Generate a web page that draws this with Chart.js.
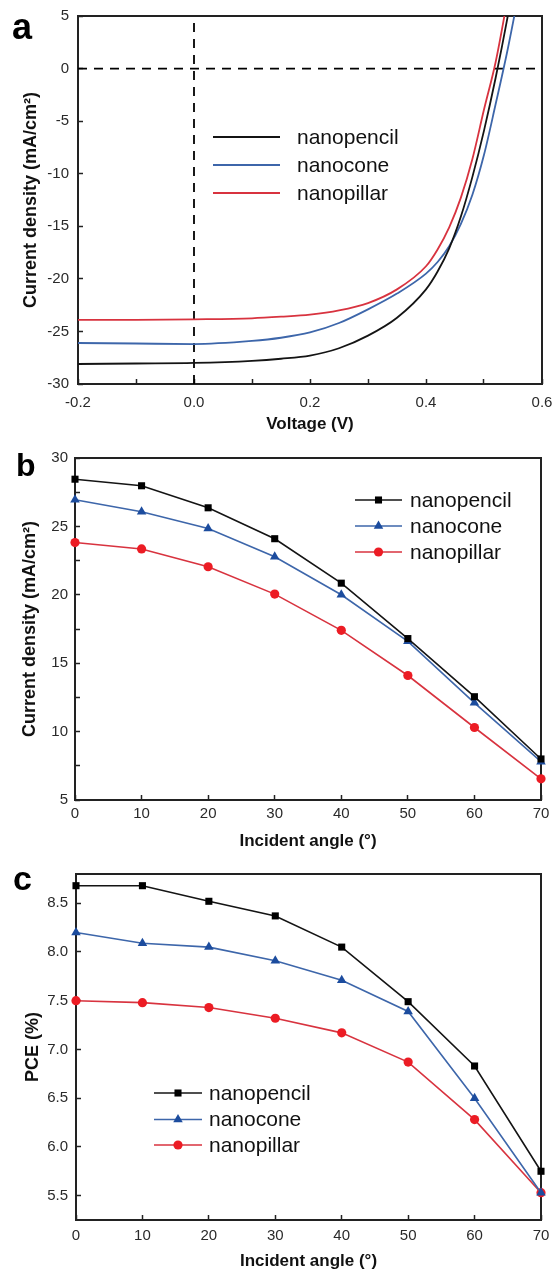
<!DOCTYPE html>
<html>
<head>
<meta charset="utf-8">
<title>Nanostructure solar cells</title>
<script src="https://cdn.jsdelivr.net/npm/chart.js@4.4.1/dist/chart.umd.min.js"></script>
<style>
  body { margin: 0; background: #fff; width: 556px; height: 1274px; position: relative; overflow: hidden; font-family: Arial, "Liberation Sans", sans-serif; }
  .panel { position: absolute; left: 0; }
  .tag { position: absolute; font-weight: bold; color: #000; line-height: 1; }
</style>
</head>
<body>
<div class="panel" style="top:0"><canvas id="jv" width="556" height="440"></canvas></div>
<div class="panel" style="top:440px"><canvas id="jsc" width="556" height="420"></canvas></div>
<div class="panel" style="top:860px"><canvas id="pce" width="556" height="414"></canvas></div>
<div class="tag" style="left:12px; top:9px; font-size:36px">a</div>
<div class="tag" style="left:16px; top:449px; font-size:32px">b</div>
<div class="tag" style="left:13px; top:861px; font-size:34px">c</div>

<script>
// series names
const names = ['nanopencil', 'nanocone', 'nanopillar'];

// (a) J-V curves
const voltage = [-0.2, -0.1, 0, 0.1, 0.15, 0.2, 0.25, 0.3, 0.35, 0.4, 0.42, 0.44, 0.46, 0.48, 0.5, 0.52, 0.54, 0.56];
const jvPencil = [-28.1, -28.05, -28.0, -27.8, -27.6, -27.3, -26.6, -25.4, -23.7, -21.0, -19.3, -17.1, -14.1, -10.3, -5.9, -0.9, 4.7, 11.0];
const jvCone = [-26.1, -26.15, -26.2, -25.9, -25.6, -25.1, -24.2, -22.9, -21.4, -19.5, -18.4, -16.9, -14.8, -12.0, -8.2, -3.4, 1.6, 7.2];
const jvPillar = [-23.9, -23.9, -23.85, -23.75, -23.6, -23.4, -23.0, -22.3, -21.0, -18.8, -17.2, -15.1, -12.3, -8.6, -3.9, 0.6, 6.5, 13.0];
const zeroV = [-0.2, 0.6];
const zeroJ = [-30, 5];

// (b) current density vs incident angle
const angles = [0, 10, 20, 30, 40, 50, 60, 70];
const jscPencil = [28.45, 27.97, 26.36, 24.1, 20.85, 16.8, 12.55, 8.0];
const jscCone = [26.95, 26.07, 24.85, 22.78, 20.0, 16.6, 12.1, 7.8];
const jscPillar = [23.82, 23.35, 22.05, 20.05, 17.4, 14.1, 10.3, 6.55];

// (c) PCE vs incident angle
const pcePencil = [8.68, 8.68, 8.52, 8.37, 8.05, 7.49, 6.83, 5.75];
const pceCone = [8.20, 8.09, 8.05, 7.91, 7.71, 7.39, 6.50, 5.53];
const pcePillar = [7.50, 7.48, 7.43, 7.32, 7.17, 6.87, 6.28, 5.53];

const FONT = 'Arial, "Liberation Sans", sans-serif';
const lineColors = ['#141414', '#3d66aa', '#d8333f'];
const dotColors = ['#000000', '#1c4c9e', '#ec1c24'];
const shapes = ['rect', 'triangle', 'circle'];
const sizes = [5, 5.5, 4.6];

const pairs = (xs, ys) => xs.map((x, i) => ({ x: x, y: ys[i] }));

// box round the plot area, drawn under the marks
const frame = {
  id: 'frame',
  beforeDatasetsDraw(chart) {
    const { ctx, chartArea: a } = chart;
    ctx.save();
    ctx.strokeStyle = '#222';
    ctx.lineWidth = 2;
    ctx.strokeRect(a.left, a.top, a.right - a.left, a.bottom - a.top);
    ctx.restore();
  }
};

function drawMarker(ctx, style, r, x, y, color) {
  ctx.fillStyle = color;
  ctx.beginPath();
  if (style === 'rect') {
    const s = r * Math.SQRT1_2;
    ctx.rect(x - s, y - s, 2 * s, 2 * s);
  } else if (style === 'triangle') {
    ctx.moveTo(x, y - r);
    ctx.lineTo(x + r * 0.866, y + r * 0.5);
    ctx.lineTo(x - r * 0.866, y + r * 0.5);
    ctx.closePath();
  } else {
    ctx.arc(x, y, r, 0, Math.PI * 2);
  }
  ctx.fill();
}

// legend inside the plot, as in the figure
const inlineLegend = {
  id: 'inlineLegend',
  afterDraw(chart, args, o) {
    const ctx = chart.ctx;
    ctx.save();
    ctx.font = o.size + 'px ' + FONT;
    ctx.textBaseline = 'middle';
    chart.data.datasets.forEach((ds, i) => {
      if (ds.helper) return;
      const y = o.ys[i];
      ctx.strokeStyle = ds.borderColor;
      ctx.lineWidth = o.lineWidth;
      ctx.beginPath();
      ctx.moveTo(o.x1, y);
      ctx.lineTo(o.x2, y);
      ctx.stroke();
      if (o.markers) drawMarker(ctx, ds.pointStyle, ds.pointRadius, (o.x1 + o.x2) / 2, y, ds.pointBackgroundColor);
      ctx.fillStyle = '#111';
      ctx.fillText(ds.label, o.textX, y + 1);
    });
    ctx.restore();
  }
};

function fixSize(w, h) {
  return function (s) {
    if (s.isHorizontal()) s.height = h; else s.width = w;
    s.paddingLeft = s.paddingRight = s.paddingTop = s.paddingBottom = 0;
  };
}

function axis(cfg) {
  return {
    type: 'linear',
    min: cfg.min,
    max: cfg.max,
    border: { display: false },
    grid: { drawOnChartArea: false, tickLength: -5, tickColor: '#222', tickWidth: 1.5 },
    ticks: {
      stepSize: cfg.step,
      autoSkip: false,
      maxRotation: 0,
      padding: cfg.tickPad,
      color: '#2a2a2a',
      font: { family: FONT, size: 15 },
      callback: cfg.label
    },
    title: {
      display: true,
      text: cfg.title,
      color: '#111',
      font: { family: FONT, size: cfg.titleSize, weight: 'bold' },
      padding: cfg.titlePad
    },
    afterBuildTicks: cfg.keep ? (s) => { s.ticks = s.ticks.filter(t => cfg.keep(t.value)); } : undefined,
    afterFit: fixSize(cfg.w, cfg.h)
  };
}

Chart.defaults.font.family = FONT;
Chart.defaults.animation = false;

// ---- panel a ----
const jvSeries = [jvPencil, jvCone, jvPillar];
new Chart(document.getElementById('jv'), {
  type: 'line',
  data: {
    datasets: jvSeries.map((arr, i) => ({
      label: names[i],
      data: pairs(voltage, arr),
      borderColor: lineColors[i],
      borderWidth: 1.8,
      pointRadius: 0,
      cubicInterpolationMode: 'monotone',
      clip: 0
    })).concat([
      { helper: true, data: pairs(zeroV, [0, 0]), borderColor: '#000', borderWidth: 1.8, borderDash: [9, 7], pointRadius: 0, clip: 0 },
      { helper: true, data: pairs([0, 0], zeroJ), borderColor: '#000', borderWidth: 1.8, borderDash: [9, 7], pointRadius: 0, clip: 0 }
    ])
  },
  options: {
    responsive: false,
    devicePixelRatio: 1,
    layout: { padding: { top: 16, right: 14, left: 0, bottom: 0 } },
    plugins: {
      legend: { display: false },
      tooltip: { enabled: false },
      inlineLegend: { x1: 213, x2: 280, textX: 297, ys: [137, 165, 193], size: 21, lineWidth: 2, markers: false }
    },
    scales: {
      x: axis({ min: -0.2, max: 0.6, step: 0.1, tickPad: 14.5, w: 0, h: 56,
        label: (v) => Math.round(v * 10) % 2 === 0 ? v.toFixed(1) : '',
        title: 'Voltage (V)', titleSize: 17, titlePad: { top: 0, bottom: 5 } }),
      y: axis({ min: -30, max: 5, step: 5, tickPad: 14, w: 78, h: 0,
        label: (v) => String(v),
        title: 'Current density (mA/cm²)', titleSize: 18, titlePad: { top: 20, bottom: 0 } })
    }
  },
  plugins: [frame, inlineLegend]
});

// ---- panels b and c ----
function angleChart(id, series, yCfg, pad, xCfg, legend) {
  return new Chart(document.getElementById(id), {
    type: 'line',
    data: {
      datasets: series.map((arr, i) => ({
        label: names[i],
        data: pairs(angles, arr),
        borderColor: lineColors[i],
        borderWidth: 1.6,
        pointStyle: shapes[i],
        pointRadius: sizes[i],
        pointBackgroundColor: dotColors[i],
        pointBorderWidth: 0,
        tension: 0,
        clip: false
      }))
    },
    options: {
      responsive: false,
      devicePixelRatio: 1,
      layout: { padding: pad },
      plugins: {
        legend: { display: false },
        tooltip: { enabled: false },
        inlineLegend: legend
      },
      scales: {
        x: axis(Object.assign({ min: 0, max: 70, step: 10, w: 0,
          label: (v) => String(v), title: 'Incident angle (°)', titleSize: 17 }, xCfg)),
        y: axis(yCfg)
      }
    },
    plugins: [frame, inlineLegend]
  });
}

angleChart('jsc', [jscPencil, jscCone, jscPillar],
  { min: 5, max: 30, step: 2.5, tickPad: 12, w: 75, h: 0,
    label: (v) => v % 5 === 0 ? String(v) : '',
    title: 'Current density (mA/cm²)', titleSize: 18, titlePad: { top: 19, bottom: 0 } },
  { top: 18, right: 15, left: 0, bottom: 0 },
  { h: 60, tickPad: 10, titlePad: { top: 0, bottom: 8 } },
  { x1: 355, x2: 402, textX: 410, ys: [60, 86, 112], size: 21, lineWidth: 1.5, markers: true });

angleChart('pce', [pcePencil, pceCone, pcePillar],
  { min: 5.25, max: 8.8, step: 0.5, tickPad: 13, w: 76, h: 0,
    keep: (v) => Math.abs(v * 2 - Math.round(v * 2)) < 1e-6,
    label: (v) => v.toFixed(1),
    title: 'PCE (%)', titleSize: 18, titlePad: { top: 22, bottom: 0 } },
  { top: 14, right: 15, left: 0, bottom: 0 },
  { h: 54, tickPad: 11.5, titlePad: { top: 0, bottom: 2 } },
  { x1: 154, x2: 202, textX: 209, ys: [233, 259.5, 285], size: 21, lineWidth: 1.5, markers: true });
</script>
</body>
</html>
